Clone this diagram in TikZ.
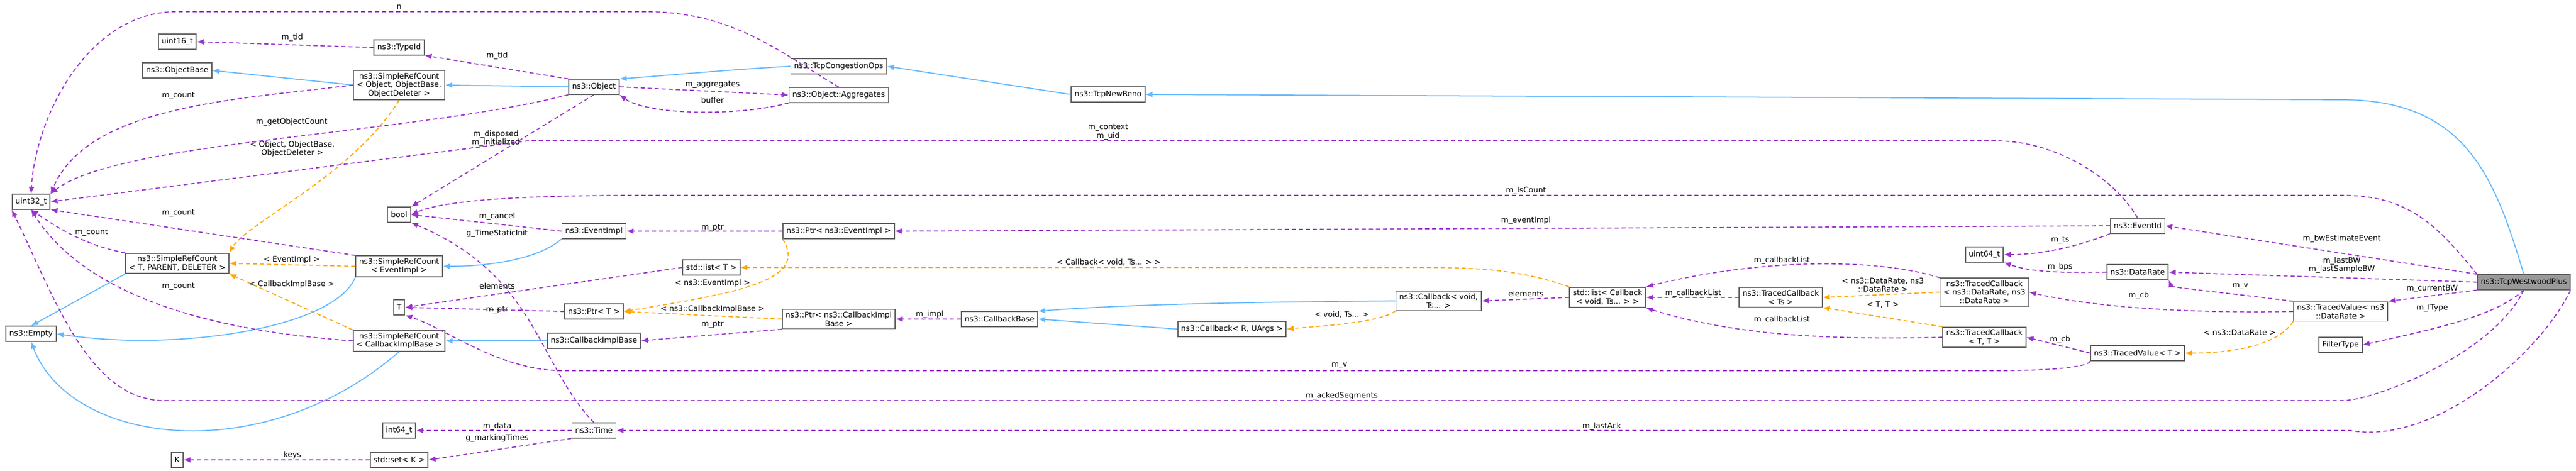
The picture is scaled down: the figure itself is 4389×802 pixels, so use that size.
\documentclass[tikz,border=0pt]{standalone}
\usepackage{fontspec}
\setmainfont{DejaVu Sans}
\usetikzlibrary{arrows.meta}
\definecolor{memc}{HTML}{9A32CD}
\definecolor{inhc}{HTML}{63B8FF}
\definecolor{tplc}{HTML}{FFA500}
\definecolor{boxc}{HTML}{666666}
\tikzset{
  cls/.style={draw=boxc,line width=0.5pt,fill=white,align=center,inner xsep=1.6pt,inner ysep=1.2pt,
    minimum height=7.2pt,font=\fontsize{3.7}{4.1}\selectfont},
  mem/.style={draw=memc,line width=0.5pt,dash pattern=on 2pt off 1.4pt,-{Latex[length=3.4pt,width=2.8pt]}},
  inh/.style={draw=inhc,line width=0.5pt,-{Latex[length=3.4pt,width=2.8pt]}},
  tpl/.style={draw=tplc,line width=0.5pt,dash pattern=on 2pt off 1.4pt,-{Latex[length=3.4pt,width=2.8pt]}},
  lbl/.style={align=center,font=\fontsize{3.7}{4.1}\selectfont,inner sep=0pt}
}
\begin{document}
\begin{tikzpicture}[x=0.01cm,y=-0.01cm]
\useasboundingbox (0,0) rectangle (4389,802);
% classes
\node[cls] (u32) at (53,344) {uint32\_t};
\node[cls] (empty) at (53,569) {ns3::Empty};
\node[cls] (u16) at (302,71) {uint16\_t};
\node[cls] (objbase) at (302,120) {ns3::ObjectBase};
\node[cls] (srctpd) at (302,449) {ns3::SimpleRefCount\\< T, PARENT, DELETER >};
\node[cls] (kK) at (302,784) {K};
\node[cls] (typeid) at (680,81) {ns3::TypeId};
\node[cls] (srcobj) at (680,145) {ns3::SimpleRefCount\\< Object, ObjectBase,\\ObjectDeleter >};
\node[cls] (bool) at (680,366) {bool};
\node[cls] (srcev) at (680,454) {ns3::SimpleRefCount\\< EventImpl >};
\node[cls] (tT) at (680,524) {T};
\node[cls] (srccb) at (680,581) {ns3::SimpleRefCount\\< CallbackImplBase >};
\node[cls] (i64) at (680,734) {int64\_t};
\node[cls] (setK) at (680,784) {std::set< K >};
\node[cls] (obj) at (1012,148) {ns3::Object};
\node[cls] (evimpl) at (1012,394) {ns3::EventImpl};
\node[cls] (ptrT) at (1012,531) {ns3::Ptr< T >};
\node[cls] (cbimpl) at (1012,581) {ns3::CallbackImplBase};
\node[cls] (time) at (1012,734) {ns3::Time};
\node[cls] (listT) at (1212,456) {std::list< T >};
\node[cls] (tcpops) at (1429,113) {ns3::TcpCongestionOps};
\node[cls] (agg) at (1429,162) {ns3::Object::Aggregates};
\node[cls] (ptrev) at (1429,394) {ns3::Ptr< ns3::EventImpl >};
\node[cls] (ptrcb) at (1429,544) {ns3::Ptr< ns3::CallbackImpl\\Base >};
\node[cls] (cbbase) at (1703,544) {ns3::CallbackBase};
\node[cls] (newreno) at (1888,161) {ns3::TcpNewReno};
\node[cls] (cbR) at (2099,561) {ns3::Callback< R, UArgs >};
\node[cls] (cbvoid) at (2451,513) {ns3::Callback< void,\\Ts... >};
\node[cls] (listcb) at (2739,507) {std::list< Callback\\< void, Ts... > >};
\node[cls] (tcTs) at (3034,507) {ns3::TracedCallback\\< Ts >};
\node[cls] (u64) at (3381,434) {uint64\_t};
\node[cls] (tcDR) at (3381,498) {ns3::TracedCallback\\< ns3::DataRate, ns3\\::DataRate >};
\node[cls] (tcTT) at (3381,575) {ns3::TracedCallback\\< T, T >};
\node[cls] (evid) at (3642,385) {ns3::EventId};
\node[cls] (drate) at (3642,464) {ns3::DataRate};
\node[cls] (tvT) at (3642,602) {ns3::TracedValue< T >};
\node[cls] (tvDR) at (3988,531) {ns3::TracedValue< ns3\\::DataRate >};
\node[cls] (ftype) at (3988,588) {FilterType};
\node[cls,fill=black!40] (west) at (4300,481) {ns3::TcpWestwoodPlus};
% inheritance
\draw[inh] (srcobj.west) -- (objbase.east);
\draw[inh] (obj.west) -- (srcobj.east);
\draw[inh] (tcpops.west) .. controls (1250,118) and (1120,130) .. (obj.north east);
\draw[inh] (newreno.west) -- (tcpops.east);
\draw[inh] (west.north) .. controls (4250,300) and (4200,170) .. (3990,170) -- (newreno.east);
\draw[inh] (evimpl.south west) .. controls (920,440) and (840,454) .. (srcev.east);
\draw[inh] (cbimpl.west) -- (srccb.east);
\draw[inh] (srctpd.south west) -- (empty.north);
\draw[inh] (srcev.south west) .. controls (570,560) and (300,600) .. (empty.east);
\draw[inh] (srccb.south) .. controls (450,800) and (120,760) .. (empty.south);
\draw[inh] (cbR.west) -- (cbbase.east);
\draw[inh] (cbvoid.west) .. controls (2100,515) and (1900,520) .. (cbbase.north east);
% templates
\draw[tpl] (srcobj.south) .. controls (600,300) and (420,380) .. (srctpd.north east)
  node[lbl] at (498,254) {< Object, ObjectBase,\\ObjectDeleter >};
\draw[tpl] (srcev.west) -- (srctpd.east) node[lbl] at (497,443) {< EventImpl >};
\draw[tpl] (srccb.north west) -- (srctpd.south east) node[lbl] at (497,485) {< CallbackImplBase >};
\draw[tpl] (ptrev.south west) .. controls (1380,480) and (1250,500) .. (ptrT.east)
  node[lbl] at (1214,483) {< ns3::EventImpl >};
\draw[tpl] (ptrcb.west) -- (ptrT.east) node[lbl] at (1214,527) {< ns3::CallbackImplBase >};
\draw[tpl] (cbvoid.south west) .. controls (2350,550) and (2260,555) .. (cbR.east)
  node[lbl] at (2286,536) {< void, Ts... >};
\draw[tpl] (listcb.north west) .. controls (2580,456) and (2500,456) .. (2400,456) -- (listT.east)
  node[lbl] at (1889,447) {< Callback< void, Ts... > >};
\draw[tpl] (tcDR.west) -- (tcTs.east) node[lbl] at (3208,486) {< ns3::DataRate, ns3\\::DataRate >};
\draw[tpl] (tcTT.north west) -- (tcTs.south east) node[lbl] at (3208,519) {< T, T >};
\draw[tpl] (tvDR.south west) .. controls (3880,590) and (3800,602) .. (tvT.east)
  node[lbl] at (3816,567) {< ns3::DataRate >};
% members
\draw[mem] (agg.north) .. controls (1330,90) and (1250,20) .. (1100,20) -- (300,20)
  .. controls (150,20) and (60,200) .. (u32.north) node[lbl] at (680,12) {n};
\draw[mem] (typeid.west) -- (u16.east) node[lbl] at (498,64) {m\_tid};
\draw[mem] (obj.north west) -- (typeid.south east) node[lbl] at (847,95) {m\_tid};
\draw[mem] (srcobj.west) .. controls (400,170) and (150,180) .. (u32.north east)
  node[lbl] at (304,163) {m\_count};
\draw[mem] (obj.south west) .. controls (700,230) and (200,240) .. (u32.north east)
  node[lbl] at (497,208) {m\_getObjectCount};
\draw[mem] (obj.south) -- (bool.north east) node[lbl] at (845,236) {m\_disposed\\m\_initialized};
\draw[mem] (obj.east) -- (agg.west) node[lbl] at (1214,144) {m\_aggregates};
\draw[mem] (agg.south west) .. controls (1250,200) and (1100,195) .. (obj.south east)
  node[lbl] at (1214,171) {buffer};
\draw[mem] (evid.north) .. controls (3600,300) and (3500,240) .. (3400,240) -- (900,240) -- (u32.east)
  node[lbl] at (1888,225) {m\_context\\m\_uid};
\draw[mem] (west.north west) .. controls (4150,380) and (4100,333) .. (3990,333) -- (1100,333)
  .. controls (900,333) and (760,340) .. (bool.east) node[lbl] at (2600,325) {m\_IsCount};
\draw[mem] (evimpl.west) -- (bool.east) node[lbl] at (847,369) {m\_cancel};
\draw[mem] (time.north) .. controls (915,620) and (915,470) .. (bool.south east)
  node[lbl] at (847,398) {g\_TimeStaticInit};
\draw[mem] (ptrev.west) -- (evimpl.east) node[lbl] at (1214,388) {m\_ptr};
\draw[mem] (evid.west) -- (ptrev.east) node[lbl] at (2600,376) {m\_eventImpl};
\draw[mem] (srcev.north west) -- (u32.south east) node[lbl] at (304,363) {m\_count};
\draw[mem] (srctpd.north west) .. controls (150,420) and (100,390) .. (u32.south)
  node[lbl] at (156,396) {m\_count};
\draw[mem] (srccb.west) .. controls (300,560) and (130,480) .. (u32.south)
  node[lbl] at (304,488) {m\_count};
\draw[mem] (listT.west) -- (tT.east) node[lbl] at (847,488) {elements};
\draw[mem] (ptrT.west) -- (tT.east) node[lbl] at (847,528) {m\_ptr};
\draw[mem] (tvT.south west) .. controls (3560,625) and (3500,632) .. (3400,632) -- (960,632)
  .. controls (850,632) and (760,560) .. (tT.south east) node[lbl] at (2282,623) {m\_v};
\draw[mem] (ptrcb.south west) -- (cbimpl.east) node[lbl] at (1214,553) {m\_ptr};
\draw[mem] (cbbase.west) -- (ptrcb.east) node[lbl] at (1584,536) {m\_impl};
\draw[mem] (listcb.west) -- (cbvoid.east) node[lbl] at (2600,501) {elements};
\draw[mem] (tcTs.west) -- (listcb.east) node[lbl] at (2885,500) {m\_callbackList};
\draw[mem] (tcDR.north west) .. controls (3200,440) and (3000,440) .. (listcb.north east)
  node[lbl] at (3036,444) {m\_callbackList};
\draw[mem] (tcTT.west) .. controls (3100,580) and (2950,570) .. (listcb.south east)
  node[lbl] at (3036,545) {m\_callbackList};
\draw[mem] (evid.south west) .. controls (3540,420) and (3480,434) .. (u64.east)
  node[lbl] at (3510,409) {m\_ts};
\draw[mem] (drate.west) .. controls (3480,466) and (3450,460) .. (u64.south east)
  node[lbl] at (3510,455) {m\_bps};
\draw[mem] (west.north west) -- (evid.east) node[lbl] at (3990,407) {m\_bwEstimateEvent};
\draw[mem] (west.west) -- (drate.east) node[lbl] at (3990,452) {m\_lastBW\\m\_lastSampleBW};
\draw[mem] (west.south west) -- (tvDR.north east) node[lbl] at (4144,492) {m\_currentBW};
\draw[mem] (west.south) .. controls (4250,540) and (4150,560) .. (ftype.east)
  node[lbl] at (4144,525) {m\_fType};
\draw[mem] (tvDR.north west) .. controls (3800,500) and (3700,490) .. (drate.south east)
  node[lbl] at (3817,488) {m\_v};
\draw[mem] (tvDR.west) .. controls (3700,535) and (3550,520) .. (tcDR.east)
  node[lbl] at (3644,504) {m\_cb};
\draw[mem] (tvT.west) -- (tcTT.east) node[lbl] at (3510,579) {m\_cb};
\draw[mem] (west.south) .. controls (4250,600) and (4050,683) .. (3990,683) -- (280,683)
  .. controls (150,683) and (90,500) .. (u32.south west) node[lbl] at (2286,675) {m\_ackedSegments};
\draw[mem] (west.south east) .. controls (4330,600) and (4150,760) .. (4004,734) -- (time.east)
  node[lbl] at (2729,727) {m\_lastAck};
\draw[mem] (time.west) -- (i64.east) node[lbl] at (847,727) {m\_data};
\draw[mem] (time.south west) -- (setK.east) node[lbl] at (847,747) {g\_markingTimes};
\draw[mem] (setK.west) -- (kK.east) node[lbl] at (498,776) {keys};
\end{tikzpicture}
\end{document}
